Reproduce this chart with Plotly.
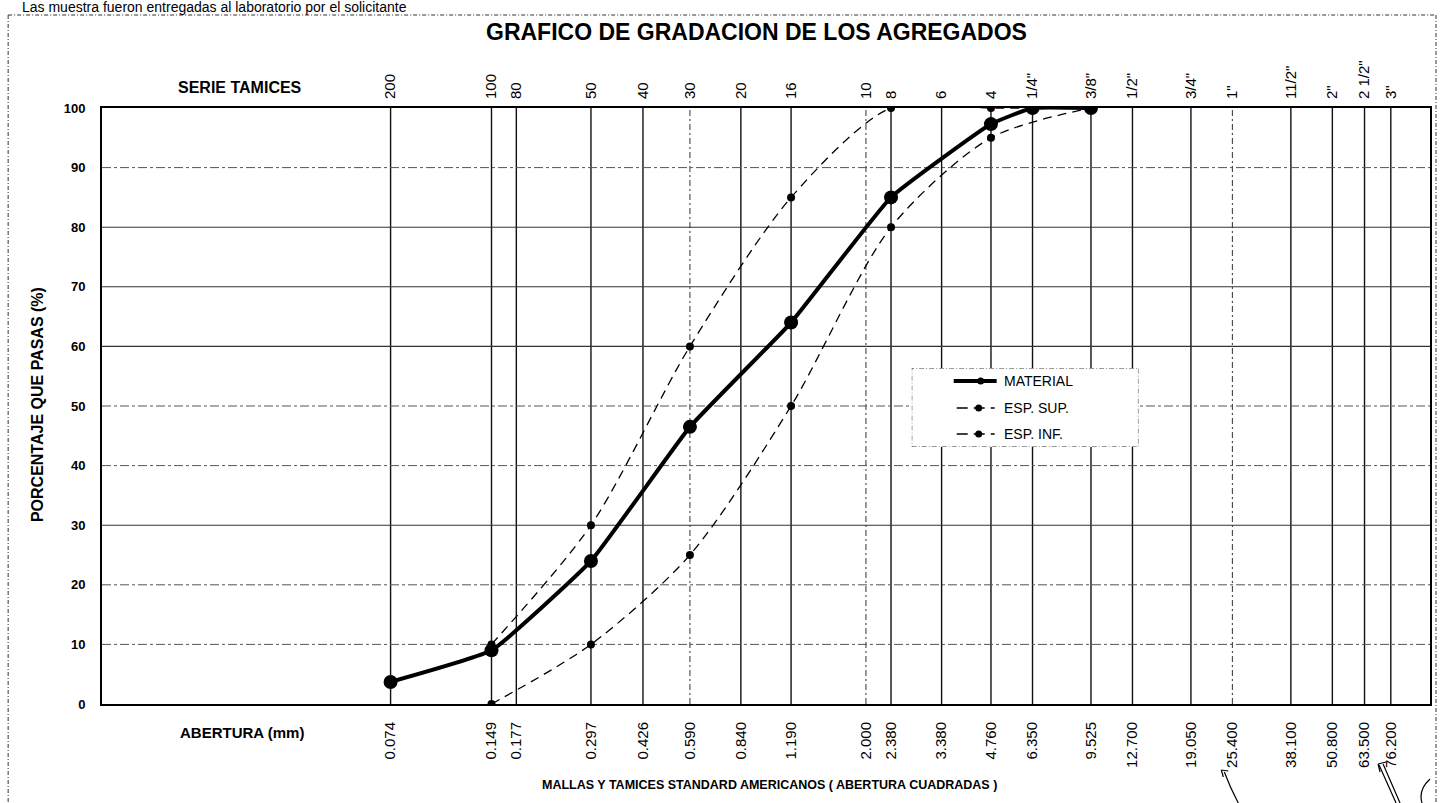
import plotly.graph_objects as go

# Sieve openings (mm) and their labels
aberturas = [0.074, 0.149, 0.177, 0.297, 0.426, 0.590, 0.840, 1.190, 2.000, 2.380,
             3.380, 4.760, 6.350, 9.525, 12.700, 19.050, 25.400, 38.100, 50.800,
             63.500, 76.200]
abertura_txt = ["0.074", "0.149", "0.177", "0.297", "0.426", "0.590", "0.840", "1.190",
                "2.000", "2.380", "3.380", "4.760", "6.350", "9.525", "12.700", "19.050",
                "25.400", "38.100", "50.800", "63.500", "76.200"]
tamices = ["200", "100", "80", "50", "40", "30", "20", "16", "10", "8", "6", "4",
           '1/4"', '3/8"', '1/2"', '3/4"', '1"', '11/2"', '2"', '2 1/2"', '3"']

# Grading curves
mat_x = [0.074, 0.149, 0.297, 0.590, 1.190, 2.380, 4.760, 6.350, 9.525]
mat_y = [3.7, 9.0, 24.0, 46.5, 64.0, 85.0, 97.3, 100.0, 100.0]
sup_x = [0.149, 0.297, 0.590, 1.190, 2.380, 4.760, 9.525]
sup_y = [10, 30, 60, 85, 100, 100, 100]
inf_x = [0.149, 0.297, 0.590, 1.190, 2.380, 4.760, 9.525]
inf_y = [0, 10, 25, 50, 80, 95, 100]
series_names = ["MATERIAL", "ESP. SUP.", "ESP. INF."]

# Grid styling: openings drawn with a broken line
vgrid_broken = [0.590, 2.000, 25.400]
hgrid_solid = [30, 60, 70, 80]
hgrid_broken = [10, 20, 40, 50, 90]

FONT = "Liberation Sans, Arial, sans-serif"
X_MIN, X_MAX = 0.01, 100
DASH = "9px,6px"

fig = go.Figure()


def grid_trace(xs, ys, dash, color, width):
    return go.Scatter(x=xs, y=ys, mode="lines", hoverinfo="skip", showlegend=False,
                      line=dict(color=color, width=width, dash=dash))


vx_s, vy_s, vx_b, vy_b = [], [], [], []
for a in aberturas:
    if a in vgrid_broken:
        vx_b += [a, a, None]
        vy_b += [0, 100, None]
    else:
        vx_s += [a, a, None]
        vy_s += [0, 100, None]
hx_s, hy_s, hx_b, hy_b = [], [], [], []
for v in hgrid_solid:
    hx_s += [X_MIN, X_MAX, None]
    hy_s += [v, v, None]
for v in hgrid_broken:
    hx_b += [X_MIN, X_MAX, None]
    hy_b += [v, v, None]

fig.add_trace(grid_trace(vx_s, vy_s, "solid", "#111", 1.4))
fig.add_trace(grid_trace(vx_b, vy_b, "6px,3px,2px,3px", "#444", 1.1))
fig.add_trace(grid_trace(hx_s, hy_s, "solid", "#333", 1.1))
fig.add_trace(grid_trace(hx_b, hy_b, "9px,3px,3px,3px", "#555", 1.0))

fig.add_trace(go.Scatter(
    x=mat_x, y=mat_y, name=series_names[0], mode="lines+markers", showlegend=False,
    line=dict(color="black", width=4, shape="spline", smoothing=0.35),
    marker=dict(color="black", size=14, symbol="circle")))
fig.add_trace(go.Scatter(
    x=sup_x, y=sup_y, name=series_names[1], mode="lines+markers", showlegend=False,
    line=dict(color="black", width=1.3, dash=DASH, shape="spline", smoothing=0.8),
    marker=dict(color="black", size=8, symbol="circle")))
fig.add_trace(go.Scatter(
    x=inf_x, y=inf_y, name=series_names[2], mode="lines+markers", showlegend=False,
    line=dict(color="black", width=1.3, dash=DASH, shape="spline", smoothing=0.8),
    marker=dict(color="black", size=8, symbol="circle")))

# invisible trace that carries the top (sieve number) axis
fig.add_trace(go.Scatter(x=[X_MIN, X_MAX], y=[0, 0], xaxis="x2", mode="markers",
                         marker=dict(opacity=0), showlegend=False, hoverinfo="skip"))


def px(x):
    return (x - 102) / 1330


def py(y):
    return (704 - y) / 596


# ---- key box, drawn on its own small unit axes ----
LX0, LX1, LY0, LY1 = 913, 1140, 368, 447


def lx(x):
    return (x - LX0) / (LX1 - LX0)


def ly(y):
    return (LY1 - y) / (LY1 - LY0)


fig.add_trace(go.Scatter(x=[0, 1, 1, 0, 0], y=[0, 0, 1, 1, 0], xaxis="x3", yaxis="y3",
                         mode="lines", fill="toself", fillcolor="white",
                         line=dict(color="#333", width=1, dash="5px,2px,1px,2px"),
                         showlegend=False, hoverinfo="skip"))
key_rows = [381, 408, 434]
key_styles = [dict(width=4, dash="solid", x0=955, x1=998, mx=982),
              dict(width=1.3, dash="11px,6px", x0=958, x1=996, mx=980),
              dict(width=1.3, dash="11px,6px", x0=958, x1=996, mx=980)]
for name, yrow, st in zip(series_names, key_rows, key_styles):
    fig.add_trace(go.Scatter(x=[lx(st["x0"]), lx(st["x1"])], y=[ly(yrow), ly(yrow)],
                             xaxis="x3", yaxis="y3", mode="lines", showlegend=False,
                             hoverinfo="skip",
                             line=dict(color="black", width=st["width"], dash=st["dash"])))
    fig.add_trace(go.Scatter(x=[lx(st["mx"])], y=[ly(yrow)], xaxis="x3", yaxis="y3",
                             mode="markers", showlegend=False, hoverinfo="skip",
                             marker=dict(color="black", size=7)))

fig.update_layout(
    width=1442, height=803,
    margin=dict(l=102, r=10, t=108, b=99),
    paper_bgcolor="white", plot_bgcolor="white",
    font=dict(family=FONT, color="black"),
    showlegend=False,
    xaxis=dict(type="log", range=[-2, 2], tickmode="array", tickvals=aberturas,
               ticktext=abertura_txt, tickangle=-90, showgrid=False, zeroline=False,
               showline=True, mirror=True, linecolor="black", linewidth=2,
               ticks="", ticklabelstandoff=10, tickfont=dict(size=15, family=FONT)),
    xaxis2=dict(type="log", range=[-2, 2], overlaying="x", side="top", anchor="y",
                tickmode="array", tickvals=aberturas, ticktext=tamices, tickangle=-90,
                showgrid=False, zeroline=False, showline=False, ticks="",
                ticklabelstandoff=8, tickfont=dict(size=15, family=FONT)),
    yaxis=dict(range=[0, 100], tickmode="linear", tick0=0, dtick=10, showgrid=False,
               zeroline=False, showline=True, mirror=True, linecolor="black",
               linewidth=2, ticks="", ticklabelstandoff=12,
               tickfont=dict(size=13, family=FONT, weight="bold")),
    xaxis3=dict(domain=[px(LX0), px(LX1)], range=[0, 1], visible=False, anchor="y3",
                fixedrange=True),
    yaxis3=dict(domain=[py(LY1), py(LY0)], range=[0, 1], visible=False, anchor="x3",
                fixedrange=True),
)

ann = [
    dict(text="GRAFICO DE GRADACION DE LOS AGREGADOS", x=px(757), y=py(32),
         font=dict(size=23, weight="bold")),
    dict(text="SERIE TAMICES", x=px(240), y=py(88), font=dict(size=16, weight="bold")),
    dict(text="ABERTURA (mm)", x=px(242), y=py(732), font=dict(size=15, weight="bold")),
    dict(text="MALLAS Y TAMICES STANDARD AMERICANOS ( ABERTURA CUADRADAS )",
         x=px(771), y=py(785), font=dict(size=12.5, weight="bold")),
    dict(text="PORCENTAJE QUE PASAS (%)", x=px(37), y=py(405), textangle=-90,
         font=dict(size=16, weight="bold")),
    dict(text="Las muestra fueron entregadas al laboratorio por el solicitante",
         x=px(20), y=py(7), xanchor="left", font=dict(size=14)),
]
for name, yrow in zip(series_names, key_rows):
    ann.append(dict(text=name, x=px(1003), y=py(yrow), xanchor="left",
                    font=dict(size=14)))
for a in ann:
    a.setdefault("xanchor", "center")
    a.update(xref="paper", yref="paper", yanchor="middle", showarrow=False)
    a["font"] = dict(family=FONT, color="black", **a["font"])
fig.update_layout(annotations=ann)

frame = dict(color="#333", width=1, dash="4px,2px,1px,2px")
shapes = [
    # outer page frame
    dict(type="line", x0=px(8), x1=px(1438), y0=py(15), y1=py(15), line=frame),
    dict(type="line", x0=px(8), x1=px(8), y0=py(15), y1=py(803), line=frame),
    dict(type="line", x0=px(1438), x1=px(1438), y0=py(15), y1=py(803), line=frame),
]
# pen marks at the lower right
pen = dict(color="black", width=1.2)
shapes += [
    dict(type="path", path=f"M {px(1226)} {py(772)} Q {px(1232)} {py(788)} {px(1240)} {py(803)}",
         line=pen),
    dict(type="path", path=f"M {px(1223)} {py(770)} L {px(1230)} {py(771)} M {px(1223)} {py(770)} L {px(1225)} {py(777)}",
         line=pen),
    dict(type="path", path=f"M {px(1381)} {py(765)} L {px(1398)} {py(803)} M {px(1385)} {py(764)} L {px(1402)} {py(803)}",
         line=pen),
    dict(type="path", path=f"M {px(1380)} {py(764)} L {px(1388)} {py(762)} M {px(1380)} {py(764)} L {px(1382)} {py(772)}",
         line=pen),
    dict(type="path", path=f"M {px(1432)} {py(779)} Q {px(1420)} {py(790)} {px(1424)} {py(803)}",
         line=pen),
]
for s in shapes:
    s.update(xref="paper", yref="paper")
fig.update_layout(shapes=shapes)

fig.write_html("out.html")
